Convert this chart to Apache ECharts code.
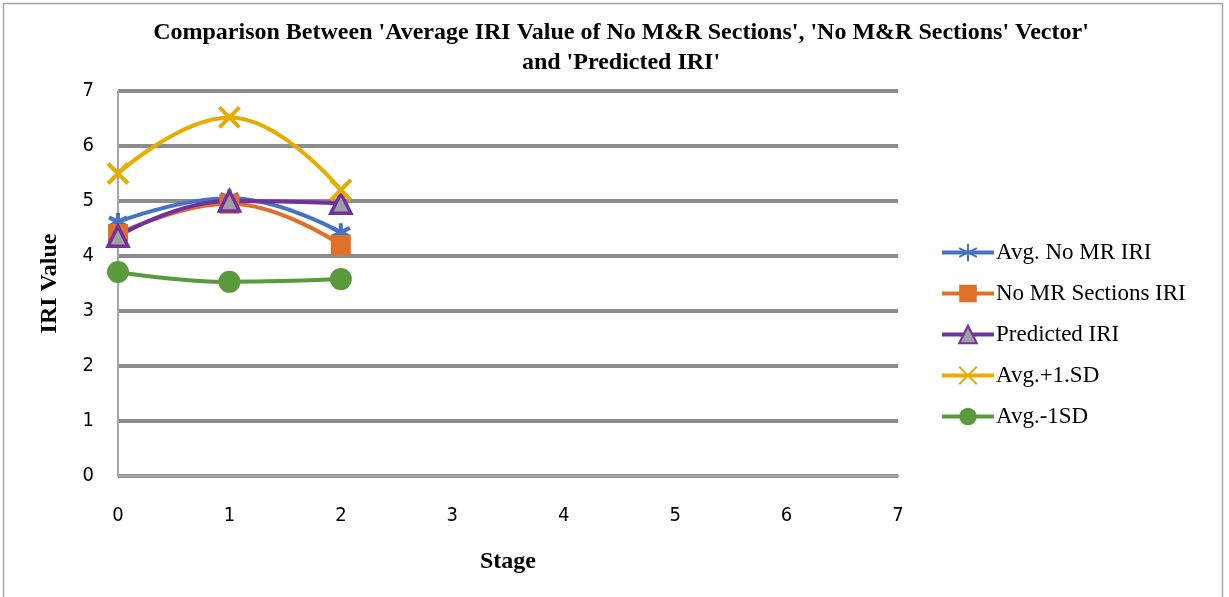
<!DOCTYPE html>
<html><head><meta charset="utf-8">
<script src="https://cdn.jsdelivr.net/npm/echarts@6/dist/echarts.min.js"></script>
<style>html,body{margin:0;padding:0;background:#fff}#c{width:1229px;height:597px;}</style>
</head><body><div id="c"></div>
<script>
var stages = [0, 1, 2];
var avgNoMR = [4.62, 5.05, 4.43];
var noMRSections = [4.40, 4.95, 4.20];
var predicted = [4.36, 5.00, 4.96];
var avgPlus1SD = [5.50, 6.52, 5.20];
var avgMinus1SD = [3.71, 3.53, 3.58];
var seriesNames = ['Avg. No MR IRI', 'No MR Sections IRI', 'Predicted IRI', 'Avg.+1.SD', 'Avg.-1SD'];

function pts(v){ return stages.map(function(s,i){ return [s, v[i]]; }); }
var chart = echarts.init(document.getElementById('c'));
var serif = 'Liberation Serif';
var narrow = "'Liberation Sans Narrow', 'DejaVu Sans Condensed', 'Roboto', sans-serif";
var mk = function(name, data, color, symbol, size, extra){
  return {
    name: name, type: 'line', data: pts(data), smooth: 0.45,
    lineStyle: {color: color, width: 4},
    itemStyle: Object.assign({color: color}, extra || {}),
    symbol: symbol, symbolSize: size, z: 3
  };
};
chart.setOption({
  animation: false,
  graphic: [{type:'rect', shape:{x:3.5,y:3.5,width:1219,height:600}, style:{fill:'none', stroke:'#a6a6a6', lineWidth:1.5}}],
  title: {
    text: "Comparison Between 'Average IRI Value of No M&R Sections', 'No M&R Sections' Vector'\nand 'Predicted IRI'",
    left: 616, top: 13, textAlign: 'center',
    textStyle: {fontFamily: serif, fontWeight: 'bold', fontSize: 24, lineHeight: 30, color: '#000'}
  },
  grid: {left: 118, right: 331, top: 91, bottom: 121},
  legend: {
    orient: 'vertical', left: 935, top: 236, itemGap: 18, itemWidth: 52, itemHeight: 22,
    lineStyle: {width: 4},
    textStyle: {fontFamily: serif, fontSize: 23, color: '#000', padding: [0,0,0,-3]},
    data: seriesNames
  },
  xAxis: {
    type: 'value', min: 0, max: 7, interval: 1,
    name: 'Stage', nameLocation: 'middle', nameGap: 74,
    nameTextStyle: {fontFamily: serif, fontWeight: 'bold', fontSize: 24, color: '#000'},
    axisLine: {lineStyle: {color: '#a6a6a6', width: 2}},
    axisTick: {show: false},
    splitLine: {show: false},
    axisLabel: {fontFamily: narrow, fontSize: 20, color: '#000', margin: 30}
  },
  yAxis: {
    type: 'value', min: 0, max: 7, interval: 1,
    name: 'IRI Value', nameLocation: 'middle', nameGap: 56,
    nameTextStyle: {fontFamily: serif, fontWeight: 'bold', fontSize: 24, color: '#000'},
    axisLine: {show: true, lineStyle: {color: '#a6a6a6', width: 2}},
    axisTick: {show: false},
    splitLine: {lineStyle: {color: '#8c8c8c', width: 4}},
    axisLabel: {fontFamily: narrow, fontSize: 20, color: '#000', margin: 24}
  },
  series: [
    mk(seriesNames[0], avgNoMR, '#4472c4', 'path://M0,-10L0,10M-9,-5L9,5M-9,5L9,-5', 18, {borderColor:'#4472c4', borderWidth:4}),
    mk(seriesNames[1], noMRSections, '#e07028', 'rect', 20),
    mk(seriesNames[2], predicted, '#7030a0', 'triangle', 20, {color:'#a0a0a0', borderColor:'#7030a0', borderWidth:3.5}),
    mk(seriesNames[3], avgPlus1SD, '#e6ac00', 'path://M-10,-10L10,10M-10,10L10,-10', 20, {borderColor:'#e6ac00', borderWidth:4}),
    mk(seriesNames[4], avgMinus1SD, '#5b9a3c', 'circle', 22)
  ]
});
</script></body></html>
